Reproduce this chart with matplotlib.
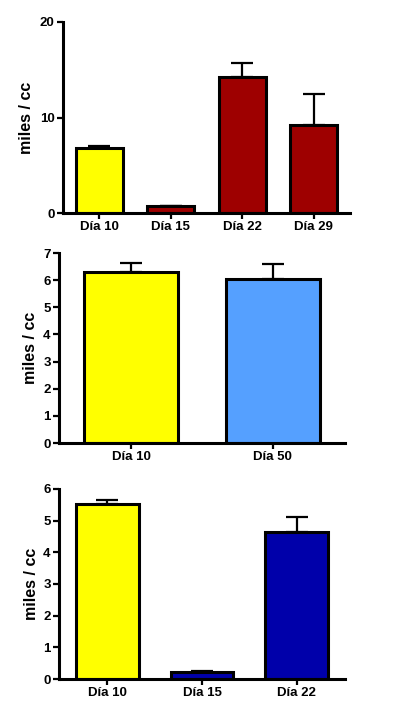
import matplotlib
matplotlib.use("agg")
import matplotlib.pyplot as plt
import numpy as np

plt.rcParams['font.family'] = ['Liberation Sans', 'DejaVu Sans']
plt.rcParams['font.weight'] = 'bold'

# panel 1
labels1 = ['Día 10', 'Día 15', 'Día 22', 'Día 29']
vals1 = [6.8, 0.7, 14.2, 9.2]
errs1 = [0.2, 0.05, 1.5, 3.3]
cols1 = ['#FFFF00', '#9E0000', '#9E0000', '#9E0000']

# panel 2
labels2 = ['Día 10', 'Día 50']
vals2 = [6.3, 6.03]
errs2 = [0.33, 0.55]
cols2 = ['#FFFF00', '#55A0FF']

# panel 3
labels3 = ['Día 10', 'Día 15', 'Día 22']
vals3 = [5.53, 0.22, 4.64]
errs3 = [0.13, 0.02, 0.47]
cols3 = ['#FFFF00', '#0000AA', '#0000AA']

W, H = 393, 709
fig = plt.figure(figsize=(W / 100, H / 100), dpi=100)


def panel(rect, labels, vals, errs, cols, ymax, yticks, ylab_x):
    l, r, t, b = rect
    ax = fig.add_axes([l / W, 1 - b / H, (r - l) / W, (b - t) / H])
    x = np.arange(len(labels))
    ax.bar(x, vals, width=0.66, color=cols, edgecolor='black', linewidth=2.2,
           yerr=[np.zeros(len(errs)), errs], capsize=8,
           error_kw=dict(elinewidth=1.6, capthick=1.6, ecolor='black'), zorder=2)
    ax.set_xlim(-0.51, len(labels) - 0.49)
    ax.set_ylim(0, ymax)
    ax.set_yticks(yticks)
    ax.set_xticks(x)
    ax.set_xticklabels(labels)
    for s in ['top', 'right']:
        ax.spines[s].set_visible(False)
    for s in ['left', 'bottom']:
        ax.spines[s].set_linewidth(2.2)
    ax.tick_params(direction='out', length=4, width=1.6, labelsize=9.5, pad=2)
    ax.set_ylabel('miles / cc', fontsize=11.5, fontweight='bold')
    ax.yaxis.set_label_coords((ylab_x - l) / (r - l), 0.5)
    return ax


panel((63, 350, 22, 213), labels1, vals1, errs1, cols1, 20, [0, 10, 20], 34)
panel((59, 345, 253, 443), labels2, vals2, errs2, cols2, 7, range(8), 38)
panel((59, 345, 489, 679), labels3, vals3, errs3, cols3, 6, range(7), 39)

fig.savefig('out.png', dpi=100)
